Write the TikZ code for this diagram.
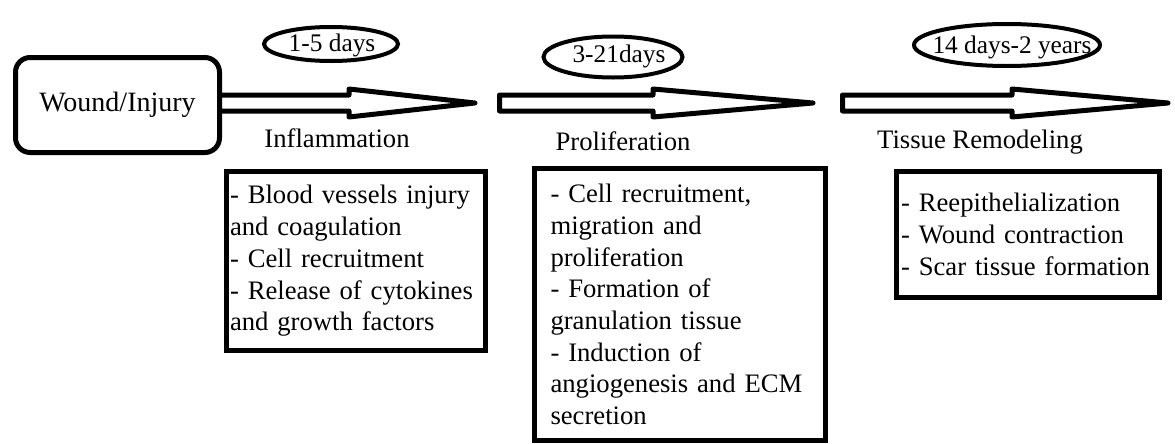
\documentclass[tikz,border=0pt]{standalone}
\usepackage{fontspec}
\setmainfont{Liberation Serif}
\usepackage{tikz}
\usetikzlibrary{positioning,shapes.geometric}
\tikzset{
frame/.style={
draw,
line width=3.75pt,
align=left,
font=\fontsize{20}{23.8}\selectfont
},
ring/.style={
draw,
ellipse,
line width=3pt,
inner sep=0pt
},
days/.style={
anchor=base,
font=\fontsize{19}{22}\selectfont
},
phase/.style={
anchor=base,
font=\fontsize{20}{24}\selectfont
},
blockarrow/.style={
draw,
line width=3.75pt,
line join=round,
fill=white
}
}
\begin{document}
\begin{tikzpicture}[x=0.75pt,y=-0.75pt]
\useasboundingbox (0,0) rectangle (1175,443);
\node[frame,rounded corners=11pt,align=center,minimum width=153pt,minimum height=71.25pt,font=\fontsize{21}{24}\selectfont](wound) at (117.5,105){Wound/Injury};

% hollow block arrows between the phases
\foreach \s/\h/\t in {219.5/349/475,499.5/653/813,842.5/1012/1168}
\draw[blockarrow](\s,95)--(\h,95)--(\h,89)--(\t,103)--(\h,117)--(\h,111)--(\s,111)--cycle;

\node[ring,minimum width=100.5pt,minimum height=25.5pt](r1) at (331,44){};
\node[ring,minimum width=104.25pt,minimum height=30.75pt](r2) at (613,57){};
\node[ring,minimum width=139.5pt,minimum height=31.5pt](r3) at (1007,45){};
\node[days](d1) at (332,51){1-5 days};
\node[days](d2) at (619,62){3-21days};
\node[days](d3) at (1012,53){14 days-2 years};

\node[phase](infl) at (337,147){Inflammation};
\node[phase](prol) at (623,150){Proliferation};
\node[phase](remo) at (980,148){Tissue Remodeling};

\node[frame,minimum width=194.25pt,minimum height=134.25pt,inner xsep=2.6pt,text width=189pt](b1) at (356,261)
{- Blood vessels injury\\and coagulation\\- Cell recruitment\\- Release of cytokines\\and growth factors};
\node[frame,minimum width=218.25pt,minimum height=204pt,inner xsep=12pt,text width=194.25pt](b2) at (680,304.5)
{- Cell recruitment,\\migration and\\proliferation\\- Formation of\\granulation tissue\\- Induction of\\angiogenesis and ECM\\secretion};
\node[frame,minimum width=197.25pt,minimum height=94.5pt,inner xsep=3.4pt,text width=190.45pt](b3) at (1028,234.5)
{- Reepithelialization\\- Wound contraction\\- Scar tissue formation};
\end{tikzpicture}
\end{document}
